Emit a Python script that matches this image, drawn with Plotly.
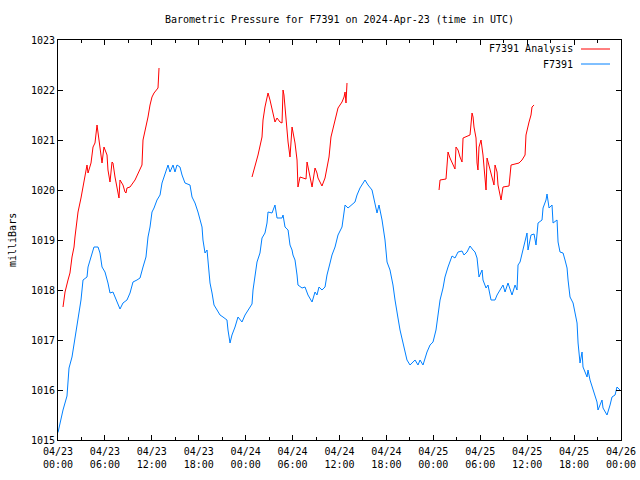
import plotly.graph_objects as go
from datetime import datetime, timedelta

START = datetime(2024, 4, 23, 0, 0)

# ---- F7391 station readings (hours after 2024-04-23 00:00 UTC, milliBars)
station_hours = [0.0,0.64,1.15,1.41,1.79,2.17,2.56,2.94,3.2,3.71,3.84,4.22,4.6,5.12,5.37,5.63,6.01,6.39,6.65,7.03,7.55,7.93,8.31,8.82,9.21,9.59,10.1,10.49,10.87,11.25,11.51,11.77,12.02,12.28,12.66,13.05,13.3,13.68,14.07,14.32,14.71,14.96,15.22,15.6,15.86,16.24,16.88,17.14,17.52,17.9,18.42,18.54,18.8,19.06,19.18,19.44,19.7,19.95,20.34,20.72,21.1,21.61,21.74,22.0,22.25,22.64,23.02,23.53,23.92,24.3,24.81,24.94,25.2,25.45,25.83,26.09,26.47,26.73,26.86,27.37,27.75,28.01,28.65,28.78,29.03,29.42,29.67,29.93,30.05,30.31,30.57,30.69,31.21,31.59,31.97,32.49,32.87,33.12,33.38,33.76,34.15,34.4,34.79,35.04,35.43,35.81,36.32,36.45,36.71,37.09,37.6,37.98,38.24,38.62,39.26,39.65,40.16,40.54,40.8,41.05,41.44,41.82,42.08,42.46,42.84,43.1,43.36,43.48,43.74,44.12,44.38,44.63,45.02,45.66,46.04,46.3,46.68,47.19,47.58,47.96,48.34,48.6,48.86,49.24,49.49,49.88,50.39,50.77,51.16,51.67,51.92,52.31,52.69,53.08,53.33,53.59,53.84,54.23,54.35,54.74,54.99,55.38,55.89,56.15,56.53,56.91,57.17,57.55,58.06,58.45,58.7,58.83,59.09,59.47,59.73,59.98,60.11,60.49,60.88,61.13,61.39,61.9,62.03,62.41,62.54,62.8,63.18,63.31,63.82,63.95,64.2,64.59,64.84,65.1,65.23,65.48,65.87,66.12,66.38,66.51,66.76,67.02,67.14,67.66,67.78,68.04,68.42,68.93,69.06,69.57,69.7,70.21,70.6,70.85,71.24,71.49,71.88]
station_mb = [1015.15,1015.6,1015.88,1016.44,1016.66,1017.04,1017.4,1017.8,1018.2,1018.26,1018.46,1018.66,1018.86,1018.86,1018.74,1018.46,1018.36,1018.14,1017.94,1017.96,1017.74,1017.62,1017.74,1017.8,1017.94,1018.16,1018.2,1018.24,1018.46,1018.66,1019.06,1019.26,1019.56,1019.64,1019.8,1019.9,1020.14,1020.3,1020.5,1020.36,1020.5,1020.36,1020.5,1020.46,1020.3,1020.14,1020.1,1019.86,1019.74,1019.56,1019.26,1019.0,1018.74,1018.8,1018.54,1018.14,1017.94,1017.7,1017.6,1017.5,1017.46,1017.4,1017.2,1016.94,1017.1,1017.26,1017.46,1017.36,1017.5,1017.6,1017.72,1018.0,1018.34,1018.56,1018.74,1019.04,1019.14,1019.34,1019.56,1019.54,1019.7,1019.44,1019.44,1019.5,1019.26,1019.2,1018.9,1018.8,1018.7,1018.6,1018.3,1018.1,1018.04,1018.06,1017.9,1017.76,1017.96,1017.9,1018.06,1018.0,1018.06,1018.3,1018.54,1018.7,1018.86,1019.1,1019.26,1019.4,1019.7,1019.64,1019.7,1019.76,1019.9,1020.04,1020.2,1020.1,1020.0,1019.76,1019.54,1019.7,1019.4,1019.0,1018.56,1018.4,1018.1,1017.8,1017.5,1017.44,1017.2,1016.94,1016.76,1016.6,1016.5,1016.6,1016.5,1016.6,1016.5,1016.76,1016.9,1016.96,1017.2,1017.54,1017.8,1018.04,1018.26,1018.46,1018.68,1018.64,1018.76,1018.78,1018.7,1018.76,1018.88,1018.8,1018.76,1018.64,1018.26,1018.4,1018.2,1018.04,1018.1,1017.8,1017.8,1017.9,1018.0,1018.1,1017.96,1018.14,1017.9,1018.1,1018.0,1018.5,1018.56,1018.8,1018.96,1019.14,1018.8,1019.1,1019.12,1018.9,1019.34,1019.4,1019.64,1019.8,1019.92,1019.64,1019.7,1019.34,1019.4,1018.96,1018.76,1018.74,1018.6,1018.44,1018.2,1017.86,1017.74,1017.54,1017.34,1016.94,1016.54,1016.76,1016.46,1016.26,1016.4,1016.2,1016.0,1015.76,1015.6,1015.8,1015.64,1015.5,1015.7,1015.86,1015.9,1016.06,1016.0]

# ---- F7391 Analysis (three separate runs)
analysis1_hours = [0.64,0.9,1.28,1.53,1.79,2.05,2.17,2.43,2.56,2.94,3.2,3.45,3.71,3.84,4.22,4.48,4.73,4.99,5.12,5.37,5.63,5.88,6.27,6.39,6.65,6.91,7.03,7.29,7.55,7.8,7.93,8.31,8.57,8.7,8.82,9.21,9.85,10.49,10.74,10.87,11.25,11.51,11.77,12.02,12.28,12.66,12.79,12.92]
analysis1_mb = [1017.66,1017.96,1018.2,1018.34,1018.66,1018.86,1019.06,1019.34,1019.56,1019.84,1020.08,1020.3,1020.5,1020.34,1020.54,1020.86,1020.94,1021.3,1021.14,1020.94,1020.54,1020.86,1020.7,1020.4,1020.16,1020.56,1020.54,1020.26,1020.06,1019.84,1020.2,1020.1,1019.96,1019.94,1020.04,1020.06,1020.2,1020.4,1020.5,1021.0,1021.24,1021.46,1021.7,1021.86,1021.94,1022.0,1022.04,1022.44]
analysis2_hours = [24.81,25.2,25.58,26.09,26.22,26.47,26.73,26.86,27.11,27.37,27.5,27.75,28.01,28.39,28.65,28.78,28.9,29.16,29.42,29.67,29.93,30.05,30.31,30.57,30.69,30.95,31.33,31.72,31.85,31.97,32.23,32.49,32.87,33.12,33.25,33.76,34.15,34.4,34.66,34.91,35.17,35.55,35.81,36.32,36.58,36.71,36.83,36.96]
analysis2_mb = [1020.26,1020.46,1020.7,1021.06,1021.4,1021.66,1021.9,1021.94,1021.8,1021.64,1021.5,1021.36,1021.44,1021.36,1021.34,1022.0,1021.9,1021.34,1020.96,1020.66,1021.26,1021.16,1020.94,1020.6,1020.06,1020.26,1020.24,1020.22,1020.56,1020.46,1020.26,1020.06,1020.44,1020.34,1020.24,1020.08,1020.24,1020.46,1020.66,1021.06,1021.24,1021.44,1021.64,1021.76,1021.86,1021.96,1021.74,1022.14]
analysis3_hours = [48.73,48.86,49.62,49.75,49.88,50.13,50.52,50.77,50.9,51.16,51.41,51.67,51.8,52.05,52.69,52.95,53.08,53.2,53.46,53.59,53.71,53.84,54.1,54.35,54.48,54.74,54.87,55.12,55.38,55.63,55.76,55.89,56.15,56.27,56.53,56.66,56.91,57.68,57.94,58.96,59.34,59.6,59.73,59.85,59.98,60.24,60.49,60.62,60.88]
analysis3_mb = [1020.0,1020.2,1020.22,1020.54,1020.76,1020.64,1020.5,1020.42,1020.86,1020.8,1020.66,1020.56,1021.04,1021.06,1021.1,1021.54,1021.46,1021.26,1021.04,1020.54,1020.4,1020.86,1021.0,1020.7,1020.4,1020.0,1020.64,1020.5,1020.34,1020.2,1020.1,1020.5,1020.36,1020.1,1019.94,1019.8,1020.06,1020.08,1020.5,1020.54,1020.6,1020.66,1020.7,1021.1,1021.2,1021.36,1021.5,1021.66,1021.7]

assert len(station_hours) == len(station_mb)
assert len(analysis1_hours) == len(analysis1_mb)
assert len(analysis2_hours) == len(analysis2_mb)
assert len(analysis3_hours) == len(analysis3_mb)

RED = "#ff0000"
BLUE = "#0080ff"
FONT = "DejaVu Sans Mono"


def to_time(hours):
    return [START + timedelta(hours=h) for h in hours]


ana_x, ana_y = [], []
for hs, ms in [(analysis1_hours, analysis1_mb), (analysis2_hours, analysis2_mb), (analysis3_hours, analysis3_mb)]:
    ana_x += to_time(hs) + [None]
    ana_y += list(ms) + [None]

fig = go.Figure()
fig.add_trace(go.Scatter(x=ana_x, y=ana_y, mode="lines", name="F7391 Analysis",
                         line=dict(color=RED, width=1), connectgaps=False, showlegend=False))
fig.add_trace(go.Scatter(x=to_time(station_hours), y=station_mb, mode="lines", name="F7391",
                         line=dict(color=BLUE, width=1), showlegend=False))

x0 = START
x1 = START + timedelta(hours=72)
tickvals = [START + timedelta(hours=6 * i) for i in range(13)]
ticktext = [t.strftime("%m/%d<br>%H:%M") for t in tickvals]

fig.update_layout(
    width=640, height=480,
    margin=dict(l=58, r=19, t=40, b=40, autoexpand=False),
    paper_bgcolor="white", plot_bgcolor="white",
    font=dict(family=FONT, size=10, color="black"),
    title=dict(text="Barometric Pressure for F7391 on 2024-Apr-23 (time in UTC)",
               x=0.5, xref="paper", xanchor="center", y=1 - 19 / 480, yanchor="middle",
               yref="container", automargin=False,
               font=dict(family=FONT, size=10, color="black")),
    xaxis=dict(range=[x0, x1], tickmode="array", tickvals=tickvals, ticktext=ticktext,
               ticks="inside", ticklen=5, tickcolor="black", showline=True, linecolor="black",
               linewidth=1, mirror="ticks", showgrid=False, zeroline=False, automargin=False,
               ticklabelstandoff=2,
               tickfont=dict(family=FONT, size=10, color="black"),
               minor=dict(dtick=3 * 3600 * 1000, tick0=x0, ticks="inside", ticklen=3,
                          tickcolor="black", showgrid=False)),
    yaxis=dict(range=[1015, 1023], dtick=1, tick0=1015, ticks="inside", ticklen=5,
               tickcolor="black", showline=True, linecolor="black", linewidth=1,
               mirror="ticks", showgrid=False, zeroline=False, automargin=False,
               tickfont=dict(family=FONT, size=10, color="black")),
)

fig.add_annotation(text="milliBars", xref="paper", yref="paper", x=(12 - 58) / 563, y=0.5,
                   textangle=-90, showarrow=False, xanchor="center", yanchor="middle",
                   font=dict(family=FONT, size=10, color="black"))

legend_items = [("F7391 Analysis", RED, (440 - 49) / 400), ("F7391", BLUE, (440 - 64) / 400)]
for label, color, ypos in legend_items:
    fig.add_annotation(text=label, xref="paper", yref="paper", x=(575 - 58) / 563, y=ypos,
                       xanchor="right", yanchor="middle", showarrow=False,
                       font=dict(family=FONT, size=10, color="black"))
    fig.add_shape(type="line", xref="paper", yref="paper",
                  x0=(581 - 58) / 563, x1=(610 - 58) / 563, y0=ypos, y1=ypos,
                  line=dict(color=color, width=1))

fig.write_html("out.html", config={"displayModeBar": False},
               post_script="document.body.style.margin='0';document.body.style.overflow='hidden';")
